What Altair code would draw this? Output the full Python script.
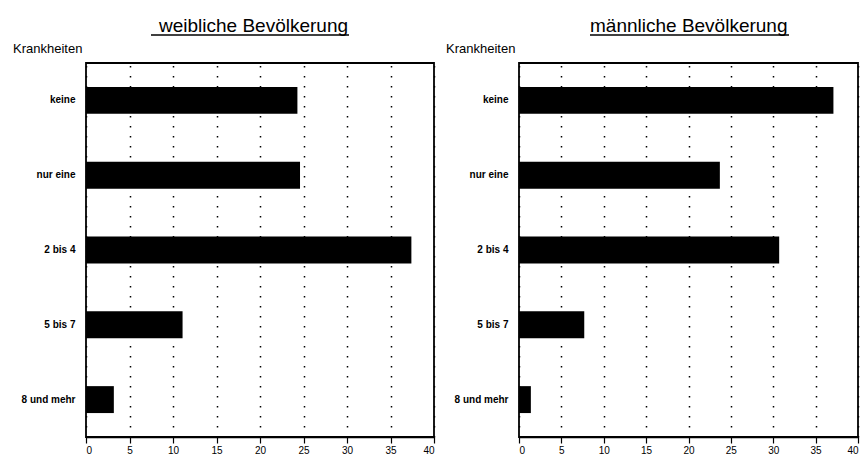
import altair as alt
import pandas as pd

categories = ["keine", "nur eine", "2 bis 4", "5 bis 7", "8 und mehr"]
weiblich = [24.3, 24.6, 37.4, 11.1, 3.2]
maennlich = [37.1, 23.7, 30.7, 7.7, 1.4]
ticks = [0, 5, 10, 15, 20, 25, 30, 35, 40]

FONT = "Liberation Sans"


def panel(values, title, width, title_x, ul_x1, ul_x2):
    df = pd.DataFrame({"Krankheiten": categories, "Anteil": values})
    base = alt.Chart(df)
    bars = base.mark_bar(color="black").encode(
        x=alt.X(
            "Anteil:Q",
            scale=alt.Scale(domain=[0, 40], nice=False),
            axis=alt.Axis(
                values=ticks, title=None, grid=True, gridDash=[1.5, 8.5],
                gridColor="black", gridWidth=1.5, gridOpacity=1,
                domainColor="black", domainWidth=1.5, tickColor="black",
                tickSize=6, tickWidth=1.2, labelFont=FONT, labelFontSize=10,
                labelColor="black", labelPadding=2, format="d",
            ),
        ),
        y=alt.Y(
            "Krankheiten:N",
            sort=categories,
            scale=alt.Scale(paddingInner=0.64, paddingOuter=0.32),
            axis=alt.Axis(
                title=None, ticks=False, domain=False, labelFont=FONT,
                labelFontSize=10, labelFontWeight="bold", labelColor="black",
                labelPadding=11, minExtent=80, maxExtent=80,
            ),
        ),
    )
    ttl = alt.Chart(pd.DataFrame({"t": [title]})).mark_text(
        font=FONT, fontSize=19, color="black", align="left", baseline="alphabetic"
    ).encode(text="t:N", x=alt.value(title_x), y=alt.value(-31))
    ul = alt.Chart(pd.DataFrame({"t": [title]})).mark_rule(
        color="black", strokeWidth=1.3
    ).encode(x=alt.value(ul_x1), x2=alt.value(ul_x2), y=alt.value(-28))
    kr = alt.Chart(pd.DataFrame({"t": ["Krankheiten"]})).mark_text(
        font=FONT, fontSize=13, color="black", align="left", baseline="alphabetic"
    ).encode(text="t:N", x=alt.value(-73), y=alt.value(-10))
    return alt.layer(bars, ttl, ul, kr).properties(
        width=width, height=374,
        view=alt.ViewBackground(stroke="black", strokeWidth=1.8, fill="white"),
    )


left = panel(weiblich, "weibliche Bevölkerung", 348, 73, 65, 263)
right = panel(maennlich, "männliche Bevölkerung", 339, 71, 71, 270)

chart = alt.hconcat(left, right, spacing=85, bounds="flush").properties(
    padding={"left": 5, "top": 16, "right": 0, "bottom": 0}
).configure_view(stroke="black", strokeWidth=1.8).configure(
    background="white"
)

chart.save("out.html", embed_options={"renderer": "svg", "actions": False})
